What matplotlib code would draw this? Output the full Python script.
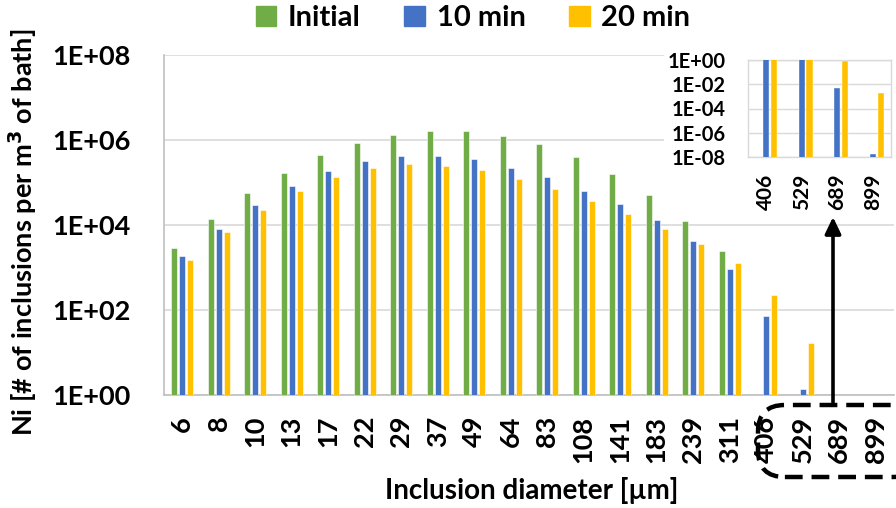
import numpy as np
import matplotlib
matplotlib.use("Agg")
import matplotlib.pyplot as plt
from matplotlib.patches import Rectangle, FancyBboxPatch, FancyArrowPatch

plt.rcParams['font.family'] = ['Lato', 'DejaVu Sans']
plt.rcParams['font.weight'] = 'bold'

categories = ['6', '8', '10', '13', '17', '22', '29', '37', '49', '64', '83',
              '108', '141', '183', '239', '311', '406', '529', '689', '899']
initial = [2.9e3, 1.36e4, 5.6e4, 1.7e5, 4.5e5, 8.7e5, 1.33e6, 1.66e6, 1.66e6, 1.26e6,
           8.1e5, 4.0e5, 1.6e5, 5.0e4, 1.22e4, 2.4e3, np.nan, np.nan, np.nan, np.nan]
min10 = [1.87e3, 8.2e3, 3.0e4, 8.4e4, 1.83e5, 3.25e5, 4.2e5, 4.2e5, 3.5e5, 2.23e5,
         1.32e5, 6.4e4, 3.2e4, 1.29e4, 4.3e3, 9.1e2, 72, 1.4, 5e-3, 1.7e-8]
min20 = [1.52e3, 6.7e3, 2.3e4, 6.4e4, 1.32e5, 2.23e5, 2.7e5, 2.5e5, 1.94e5, 1.23e5,
         6.9e4, 3.6e4, 1.78e4, 8.1e3, 3.6e3, 1.26e3, 2.2e2, 16.5, 0.83, 2e-3]
series_names = ['Initial', '10 min', '20 min']
colors = ['#70AD47', '#4472C4', '#FFC000']

main_ticks = [1e0, 1e2, 1e4, 1e6, 1e8]
main_ticklabels = ['1E+00', '1E+02', '1E+04', '1E+06', '1E+08']
inset_ticks = [1e-8, 1e-6, 1e-4, 1e-2, 1e0]
inset_ticklabels = ['1E-08', '1E-06', '1E-04', '1E-02', '1E+00']
inset_idx = [16, 17, 18, 19]

W, H = 896, 508
fig = plt.figure(figsize=(W / 100, H / 100), dpi=100)

def fx(px):
    return px / W

def fy(py):
    return 1 - py / H

grid_c = '#D9D9D9'
x = np.arange(len(categories))
offsets = [-0.22, 0.0, 0.22]
bw = 0.17
data = [initial, min10, min20]

# main axes
ax = fig.add_axes([fx(164), fy(395), fx(894) - fx(164), fy(55) - fy(395)])
ax.set_yscale('log')
for d, c, off, name in zip(data, colors, offsets, series_names):
    ax.bar(x + off, d, width=bw, color=c, edgecolor='white', linewidth=0.4, label=name, zorder=3)
ax.set_ylim(1, 1e8)
ax.set_xlim(-0.5, len(categories) - 0.5)
ax.set_yticks(main_ticks)
ax.set_yticklabels(main_ticklabels)
ax.yaxis.set_minor_locator(matplotlib.ticker.NullLocator())
ax.set_xticks(x)
ax.set_xticklabels(categories, rotation=90, va='top', ha='center')
ax.tick_params(axis='y', length=0, pad=24, labelsize=19.5)
ax.tick_params(axis='x', length=0, pad=15, labelsize=19.5)
ax.grid(axis='y', color=grid_c, linewidth=1.2, zorder=0)
for s in ['top', 'right']:
    ax.spines[s].set_visible(False)
for s in ['left', 'bottom']:
    ax.spines[s].set_color('#BFBFBF')
    ax.spines[s].set_linewidth(1.2)

# white background for inset
fig.add_artist(Rectangle((fx(664), fy(215)), fx(896) - fx(664), fy(42) - fy(215),
                         transform=fig.transFigure, facecolor='white', edgecolor='none', zorder=1))

# inset axes
axi = fig.add_axes([fx(748), fy(157), fx(891) - fx(748), fy(60) - fy(157)], zorder=2)
axi.set_yscale('log')
xi = np.arange(len(inset_idx))
for d, c, off in zip(data, colors, offsets):
    vals = [d[i] for i in inset_idx]
    axi.bar(xi + off, vals, width=bw, color=c, edgecolor='white', linewidth=0.3, zorder=3)
axi.set_ylim(1e-8, 1e0)
axi.set_xlim(-0.5, len(inset_idx) - 0.5)
axi.set_yticks(inset_ticks)
axi.set_yticklabels(inset_ticklabels)
axi.yaxis.set_minor_locator(matplotlib.ticker.NullLocator())
axi.set_xticks(xi)
axi.set_xticklabels([categories[i] for i in inset_idx], rotation=90, va='top', ha='center')
axi.tick_params(axis='y', length=0, pad=16, labelsize=14.5)
axi.tick_params(axis='x', length=0, pad=12, labelsize=15)
axi.grid(axis='y', color=grid_c, linewidth=1.0, zorder=0)
for s in axi.spines.values():
    s.set_color(grid_c)
    s.set_linewidth(1.0)

# legend
handles = [Rectangle((0, 0), 1, 1, color=c) for c in colors]
fig.legend(handles, series_names, loc='center', bbox_to_anchor=(fx(473), fy(18)), ncol=3,
           frameon=False, fontsize=21, handlelength=0.7, handleheight=0.7,
           handletextpad=0.4, columnspacing=1.5, borderaxespad=0, borderpad=0)

# axis labels
fig.text(fx(23), fy(232), 'Ni [# of inclusions per m$^{\\mathbf{3}}$ of bath]', rotation=90,
         ha='center', va='center', fontsize=19.5, fontweight='bold')
fig.text(fx(532), fy(491), 'Inclusion diameter [µm]', ha='center', va='center',
         fontsize=20, fontweight='bold')

# dashed rounded box around last four labels
box = FancyBboxPatch((fx(758), fy(477)), fx(920) - fx(758), fy(405) - fy(477),
                     boxstyle='round,pad=0,rounding_size=0.03', transform=fig.transFigure,
                     facecolor='none', edgecolor='black', linewidth=3.2,
                     linestyle=(0, (4, 2.0)), zorder=5, mutation_aspect=W / H)
fig.add_artist(box)

# arrow from box to inset
arr = FancyArrowPatch((fx(833), fy(405)), (fx(833), fy(217)), transform=fig.transFigure,
                      arrowstyle='-|>,head_length=10,head_width=4.8', color='black',
                      linewidth=2.6, zorder=5, shrinkA=0, shrinkB=0, mutation_scale=1)
fig.add_artist(arr)

fig.savefig('out.png', dpi=100)
